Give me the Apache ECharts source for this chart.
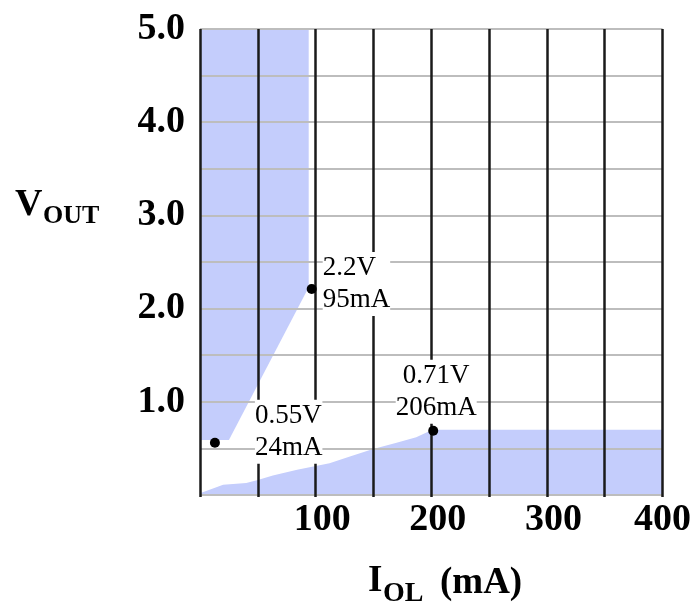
<!DOCTYPE html>
<html>
<head>
<meta charset="utf-8">
<script src="https://cdn.jsdelivr.net/npm/echarts@6/dist/echarts.min.js"></script>
<style>
html,body{margin:0;padding:0;background:#fff;}
#chart{width:694px;height:606px;}
</style>
</head>
<body>
<div id="chart"></div>
<script>
// ---- data ----
const xTickValues = [100, 200, 300, 400];
const xTickLabels = ['100', '200', '300', '400'];
const yTickValues = [1, 2, 3, 4, 5];
const yTickLabels = ['1.0', '2.0', '3.0', '4.0', '5.0'];

// upper shaded region (polygon vertices: I in mA, V in volts)
const upperRegionI = [0, 94, 94, 25, 0];
const upperRegionV = [5.0, 5.0, 2.23, 0.59, 0.59];

// lower shaded region top boundary
const lowerBoundaryI = [0, 20, 40, 50, 63, 84, 112, 129, 149, 170, 187, 201, 400];
const lowerBoundaryV = [0.02, 0.11, 0.13, 0.16, 0.21, 0.27, 0.34, 0.41, 0.49, 0.56, 0.62, 0.70, 0.70];

// marked points
const pointI = [12.9, 96.6, 201.7];
const pointV = [0.56, 2.21, 0.69];
const pointLine1 = ['0.55V', '2.2V', '0.71V'];
const pointLine2 = ['24mA', '95mA', '206mA'];

// ---- styles ----
const SERIF = '"Liberation Serif","Times New Roman",serif';
const FILL = '#c4cdfc';
const labelStyles = [
  { align: 'left', offset: [40, -11] },
  { align: 'left', offset: [11, -5] },
  { align: 'center', offset: [3, -39] }
];
const tickFont = { fontFamily: SERIF, fontWeight: 'bold', fontSize: 38, color: '#000' };

const chart = echarts.init(document.getElementById('chart'), null, { renderer: 'canvas' });

const option = {
  animation: false,
  backgroundColor: '#fff',
  grid: { left: 200, right: 30, top: 29, bottom: 111, containLabel: false },
  xAxis: {
    type: 'value', min: 0, max: 400, interval: 50, z: 3,
    axisLine: { show: false },
    axisTick: { show: true, length: 2, lineStyle: { color: '#1a1a1a', width: 2.5 } },
    splitLine: { show: true, lineStyle: { color: '#1a1a1a', width: 2.5 } },
    axisLabel: Object.assign({
      margin: 6,
      formatter: v => {
        const i = xTickValues.indexOf(v);
        if (i < 0) return '';
        return (i < xTickValues.length - 1 ? '{s|' : '{e|') + xTickLabels[i] + '}';
      },
      rich: {
        s: Object.assign({ padding: [0, 0, 0, 13] }, tickFont),
        e: Object.assign({}, tickFont)
      }
    }, tickFont)
  },
  yAxis: {
    type: 'value', min: 0, max: 5, interval: 0.5, z: 3,
    axisLine: { show: false },
    axisTick: { show: false },
    splitLine: { show: true, lineStyle: { color: '#bdbdbd', width: 2 } },
    axisLabel: Object.assign({
      margin: 15,
      formatter: v => { const i = yTickValues.indexOf(v); return i >= 0 ? yTickLabels[i] : ''; }
    }, tickFont)
  },
  series: [
    {
      type: 'custom', z: 1, silent: true,
      data: [[0, 0]],
      renderItem: (params, api) => ({
        type: 'polygon',
        shape: { points: upperRegionI.map((x, i) => api.coord([x, upperRegionV[i]])) },
        style: { fill: FILL }
      })
    },
    {
      type: 'line', z: 1, silent: true,
      data: lowerBoundaryI.map((x, i) => [x, lowerBoundaryV[i]]),
      symbol: 'none',
      lineStyle: { width: 0, color: FILL },
      areaStyle: { color: FILL, opacity: 1 }
    },
    {
      type: 'scatter', z: 10,
      symbolSize: 10,
      itemStyle: { color: '#000', opacity: 1 },
      data: pointI.map((x, i) => ({
        value: [x, pointV[i]],
        label: {
          show: true,
          position: 'inside',
          align: labelStyles[i].align,
          verticalAlign: 'middle',
          offset: labelStyles[i].offset,
          formatter: pointLine1[i] + '\n' + pointLine2[i],
          fontFamily: SERIF, fontSize: 27, lineHeight: 32, color: '#000', opacity: 1,
          backgroundColor: '#fff', padding: 0
        }
      }))
    }
  ],
  graphic: [
    { type: 'text', x: 15, y: 205, style: { text: 'V', font: 'bold 38px ' + SERIF, fill: '#000', verticalAlign: 'middle', align: 'left' } },
    { type: 'text', x: 43, y: 216, style: { text: 'OUT', font: 'bold 26px ' + SERIF, fill: '#000', verticalAlign: 'middle', align: 'left' } },
    { type: 'text', x: 368, y: 581, style: { text: 'I', font: 'bold 37px ' + SERIF, fill: '#000', verticalAlign: 'middle', align: 'left' } },
    { type: 'text', x: 383, y: 594, style: { text: 'OL', font: 'bold 28px ' + SERIF, fill: '#000', verticalAlign: 'middle', align: 'left' } },
    { type: 'text', x: 440, y: 583, style: { text: '(mA)', font: 'bold 37px ' + SERIF, fill: '#000', verticalAlign: 'middle', align: 'left' } }
  ]
};
chart.setOption(option);
</script>
</body>
</html>
